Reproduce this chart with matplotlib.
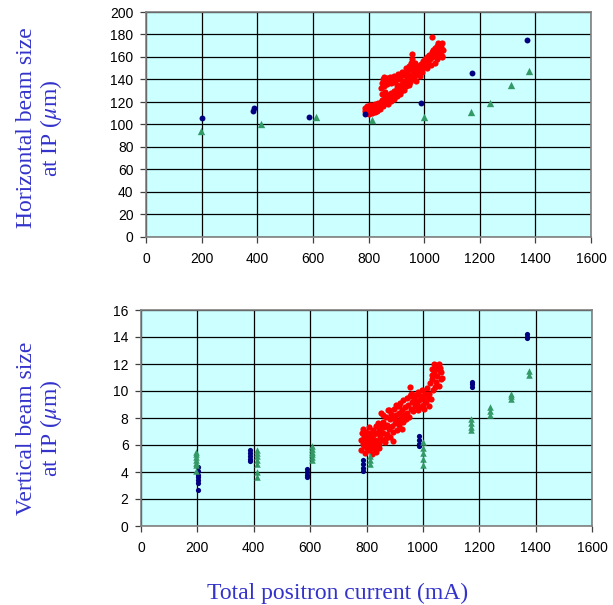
import matplotlib
matplotlib.use("Agg")
from matplotlib import pyplot as plt

# ---- horizontal beam size (top panel) ----
h_blue_x = [200, 386, 388, 586, 788, 987, 1172, 1369]
h_blue_y = [105.5, 112, 115, 106.5, 109.5, 119.5, 146, 175.5]
h_green_x = [196, 412, 610, 814, 1001, 1170, 1236, 1313, 1378]
h_green_y = [94.5, 100.5, 107, 104, 107, 111.5, 119, 135, 147.5]

h_red_x = [786, 788, 790, 792, 795, 797, 800, 802, 804, 806, 809, 811, 813, 816, 818, 820,
           823, 825, 827, 830, 832, 835, 837, 840, 843, 845, 848, 850, 853, 856, 858, 861,
           864, 866, 869, 871, 874, 877, 880, 882, 885, 888, 890, 893, 896, 899, 901, 904,
           907, 910, 912, 915, 918, 920, 923, 926, 929, 931, 934, 937, 940, 943, 945, 948,
           951, 954, 956, 959, 962, 965, 968, 970, 973, 976, 979, 982, 985, 988, 991, 994,
           997, 1000, 1003, 1006, 1009, 1012, 1015, 1018, 1021, 1024, 1027, 1030, 1033, 1036,
           1039, 1042, 1045, 1048, 1051, 1054, 1057, 1060, 1062, 1065, 1067, 1063, 1058, 1046,
           1030, 1040, 1050,
           845, 848, 850, 852, 855, 857, 860, 862, 865, 868, 872, 876, 880, 884, 888, 892,
           896, 900, 905, 910, 915, 920, 925, 930, 935, 940, 945, 950, 953, 957, 960, 964,
           968, 972, 958, 902, 925, 940, 1055, 1066]
h_red_y = [112, 115, 110, 113, 116, 111, 114, 109, 117, 112, 115, 110, 113, 117, 112, 115,
           111, 118, 114, 116, 112, 119, 115, 117, 114, 120, 118, 122, 116, 121, 119, 124,
           120, 123, 118, 126, 122, 125, 121, 128, 124, 127, 123, 130, 126, 129, 125, 132,
           128, 131, 127, 134, 130, 136, 132, 135, 131, 138, 134, 140, 136, 139, 135, 142,
           138, 144, 140, 146, 142, 148, 144, 139, 150, 146, 152, 148, 143, 154, 150, 147,
           156, 152, 158, 154, 150, 160, 156, 162, 158, 153, 164, 160, 166, 162,
           168, 164, 170, 166, 172, 168, 171, 165, 169, 172, 166, 160, 162, 158,
           178, 155, 161,
           132, 137, 127, 140, 134, 142, 129, 138, 141, 136, 139, 142, 137, 140, 138, 143,
           139, 141, 145, 140, 143, 147, 144, 146, 150, 147, 152, 149, 155, 158, 153, 150,
           155, 149, 163, 135, 139, 143, 163, 161]

# ---- vertical beam size (bottom panel) ----
v_blue_x = [202, 202, 202, 202, 202, 202, 202,
            385, 385, 385, 385, 385,
            588, 588, 588, 588,
            788, 788, 788, 788,
            985, 985, 985, 985,
            1175, 1175, 1175,
            1370, 1370, 1370]
v_blue_y = [4.4, 4.1, 3.8, 3.6, 3.4, 3.2, 2.7,
            5.6, 5.4, 5.2, 5.0, 4.8,
            4.2, 4.0, 3.8, 3.6,
            4.9, 4.6, 4.3, 4.1,
            6.7, 6.4, 6.1, 5.9,
            10.7, 10.5, 10.3,
            14.2, 14.0, 13.9]
v_green_x = [196, 196, 196, 196, 196, 196, 196,
             410, 410, 410, 410, 410, 410, 410,
             608, 608, 608, 608, 608, 608,
             812, 812, 812,
             1000, 1000, 1000, 1000, 1000,
             1170, 1170, 1170, 1170,
             1237, 1237, 1237,
             1313, 1313, 1313,
             1378, 1378]
v_green_y = [5.5, 5.3, 5.1, 4.9, 4.7, 4.5, 4.1,
             5.6, 5.4, 5.2, 4.9, 4.6, 4.0, 3.6,
             5.9, 5.7, 5.5, 5.3, 5.1, 4.9,
             5.2, 4.9, 4.6,
             6.2, 5.8, 5.4, 5.0, 4.5,
             7.9, 7.6, 7.3, 7.1,
             8.8, 8.5, 8.2,
             9.8, 9.6, 9.4,
             11.5, 11.2]

v_red_x = [780, 782, 784, 786, 788, 790, 792, 794, 796, 798, 800, 802, 804, 806, 808, 810,
           812, 814, 816, 818, 820, 822, 824, 826, 828, 830, 832, 834, 836, 838, 840, 842,
           844, 846, 848, 850, 852, 855, 858, 860, 863, 866, 868, 871, 874, 876, 879, 882,
           885, 887, 890, 893, 896, 898, 901, 904, 907, 909, 912, 915, 917, 920, 923, 926,
           928, 931, 934, 937, 939, 942, 945, 948, 950, 953, 955, 958, 961, 963, 966, 969,
           972, 975, 978, 981, 984, 987, 990, 993, 996, 999, 1002, 1005, 1008, 1011, 1014,
           1017, 1020, 1023, 1026, 1028, 1031, 1034, 1036, 1038, 1040, 1043, 1046, 1048,
           1051, 1054, 1057, 1060, 1063, 1066, 1069, 1058, 1044,
           860, 880, 905, 958, 830, 845, 870, 895, 925, 1033, 1062, 850, 915]
v_red_y = [6.4, 5.6, 6.9, 6.1, 7.2, 5.9, 6.6, 6.2, 5.4, 7.0, 6.5, 5.8, 6.8, 6.1, 7.3, 5.6,
           6.4, 6.9, 5.9, 6.6, 5.3, 7.1, 6.2, 5.7, 6.8, 6.4, 7.4, 5.5, 6.0, 6.9, 7.6, 6.3,
           5.8, 7.2, 6.6, 8.4, 7.0, 6.4, 7.7, 6.9, 7.3, 6.2, 8.1, 7.5, 6.8, 8.6, 7.2, 7.9,
           6.6, 8.3, 7.4, 7.0, 8.0, 8.7, 7.6, 8.2, 7.1, 8.9, 7.8, 8.4, 7.5, 9.1, 8.0, 8.6,
           7.7, 9.3, 8.2, 8.8, 7.9, 9.5, 8.4, 9.0, 8.1, 9.6, 10.3, 8.7, 9.2, 9.8, 8.5, 9.4,
           8.9, 9.7, 9.1, 8.6, 9.9, 9.3, 8.8, 9.6, 10.1, 9.0, 9.4, 8.7, 9.8, 9.2, 10.2,
           9.5, 8.9, 9.8, 10.6, 9.4, 10.9, 11.6, 10.1, 12.0, 11.3, 11.9, 10.7, 11.6,
           11.1, 11.8, 10.4, 11.5, 10.9, 11.4, 11.0, 12.0, 10.3,
           8.2, 8.6, 9.0, 9.8, 6.0, 6.1, 6.5, 6.3, 7.2, 11.2, 11.7, 7.4, 8.9]

x_ticks = [0, 200, 400, 600, 800, 1000, 1200, 1400, 1600]

navy = "#000080"
green = "#339966"
red = "#FF0000"
label_blue = "#3333CC"


def style_axes(ax, ymax, ystep):
    ax.set_facecolor("#CCFFFF")
    ax.set_xlim(0, 1600)
    ax.set_ylim(0, ymax)
    ax.set_xticks(x_ticks)
    ax.set_yticks(range(0, ymax + 1, ystep))
    ax.grid(True, color="black", linewidth=0.9)
    ax.set_axisbelow(True)
    for s in ax.spines.values():
        s.set_color("#808080")
        s.set_linewidth(1.2)
    ax.tick_params(direction="out", length=4, width=0.9, color="#404040",
                   labelsize=10, labelcolor="black")
    ax.tick_params(axis="x", pad=7)
    ax.tick_params(axis="y", pad=5)
    for t in ax.get_xticklabels() + ax.get_yticklabels():
        t.set_family("Liberation Sans")


fig = plt.figure(figsize=(6.13, 6.05), dpi=100)

ax1 = fig.add_axes([146 / 613, 1 - 237 / 605, 445 / 613, 225 / 605])
style_axes(ax1, 200, 20)
ax1.scatter(h_red_x, h_red_y, s=20, color=red, marker="o", linewidths=0, zorder=3)
ax1.scatter(h_blue_x, h_blue_y, s=18, color=navy, marker="o", linewidths=0, zorder=4)
ax1.scatter(h_green_x, h_green_y, s=28, color=green, marker="^", linewidths=0, zorder=4)

ax2 = fig.add_axes([141 / 613, 1 - 526 / 605, 451 / 613, 216 / 605])
style_axes(ax2, 16, 2)
ax2.scatter(v_red_x, v_red_y, s=20, color=red, marker="o", linewidths=0, zorder=3)
ax2.scatter(v_blue_x, v_blue_y, s=14, color=navy, marker="o", linewidths=0, zorder=4)
ax2.scatter(v_green_x, v_green_y, s=22, color=green, marker="^", linewidths=0, zorder=4)

plt.rcParams["mathtext.fontset"] = "stix"
fig.text(40 / 613, 1 - 128 / 605, "Horizontal beam size\nat IP ($\\mu$m)",
         rotation=90, ha="center", va="center", multialignment="center",
         family="Liberation Serif", fontsize=17, color=label_blue, linespacing=1.05)
fig.text(40 / 613, 1 - 428 / 605, "Vertical beam size\nat IP ($\\mu$m)",
         rotation=90, ha="center", va="center", multialignment="center",
         family="Liberation Serif", fontsize=17, color=label_blue, linespacing=1.05)
fig.text(338 / 613, 1 - 593 / 605, "Total positron current (mA)",
         ha="center", va="center", family="Liberation Serif", fontsize=17,
         color=label_blue)

fig.savefig("out.png", dpi=100)
